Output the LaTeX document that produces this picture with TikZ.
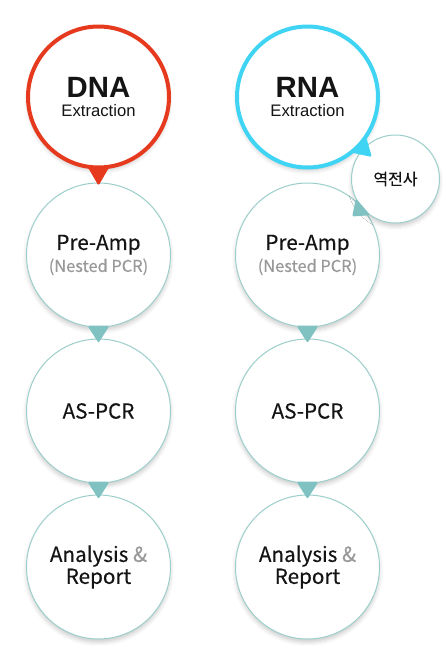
\documentclass[tikz,border=0pt]{standalone}
\usepackage{fontspec}
\setmainfont{Noto Sans CJK KR}[FakeBold=0.3]
\newfontfamily\headfont{Liberation Sans}
\usetikzlibrary{calc, shadows.blur}
\definecolor{dnared}{HTML}{E53A1D}
\definecolor{rnablue}{HTML}{40D4F4}
\definecolor{stageteal}{HTML}{9CCFCB}
\definecolor{tipteal}{HTML}{80C2C2}
\definecolor{softgray}{HTML}{999999}

\tikzset{
  stage/.style={circle, draw=stageteal, line width=0.75pt, fill=white,
    minimum size=108pt, inner sep=0pt, align=center, text=black!92,
    font=\fontsize{15.5}{16.5}\selectfont,
    blur shadow={shadow xshift=0pt, shadow yshift=-2.5pt,
      shadow blur radius=3pt, shadow opacity=20}},
  source/.style={stage, line width=3pt, minimum size=105.75pt,
    font=\fontsize{22}{14.5}\selectfont},
  rtstep/.style={stage, minimum size=66pt, font=\fontsize{12}{12}\selectfont}
}

% pointer: colour, from node, to node, base distance, tip distance
\newcommand{\pointer}[5]{%
  \fill[#1, rounded corners=1.5pt]
    ($(#2.center)!#4!(#3.center)!8.25pt!90:(#3.center)$)
    -- ($(#2.center)!#5!(#3.center)$)
    -- ($(#2.center)!#4!(#3.center)!8.25pt!-90:(#3.center)$) -- cycle;}

\newcommand{\extr}[1]{{\headfont\bfseries #1}\\{\headfont\fontsize{12.5}{13.5}\selectfont Extraction}}

\begin{document}
\begin{tikzpicture}[x=0.75pt, y=0.75pt]
\useasboundingbox (0,0) rectangle (446,-665);

% DNA column
\node[source, draw=dnared] (dna) at (98.5,-97) {\extr{DNA}};
\node[stage] (dnapre) at (98.5,-255) {Pre-Amp\\{\fontsize{12.3}{14}\selectfont\color{softgray}(Nested PCR)}};
\node[stage] (dnaas) at (98.5,-411) {AS-PCR};
\node[stage] (dnarep) at (98.5,-567) {Analysis {\color{softgray}\&}\\Report};

% RNA column
\node[source, draw=rnablue] (rna) at (307.5,-97) {\extr{RNA}};
\node[stage] (rnapre) at (307.5,-255) {Pre-Amp\\{\fontsize{12.3}{14}\selectfont\color{softgray}(Nested PCR)}};
\node[stage] (rnaas) at (307.5,-411) {AS-PCR};
\node[stage] (rnarep) at (307.5,-567) {Analysis {\color{softgray}\&}\\Report};

\pointer{dnared}{dna}{dnapre}{52.2pt}{66.5pt}
\pointer{tipteal}{dnapre}{dnaas}{53pt}{66pt}
\pointer{tipteal}{dnaas}{dnarep}{53pt}{66pt}
\pointer{tipteal}{rnapre}{rnaas}{53pt}{66pt}
\pointer{tipteal}{rnaas}{rnarep}{53pt}{66pt}

% reverse transcription
\node[rtstep] (rt) at (395.5,-179) {역전사};
\pointer{rnablue}{rna}{rt}{52.2pt}{66pt}
\pointer{tipteal}{rt}{rnapre}{32pt}{43pt}
\end{tikzpicture}
\end{document}
